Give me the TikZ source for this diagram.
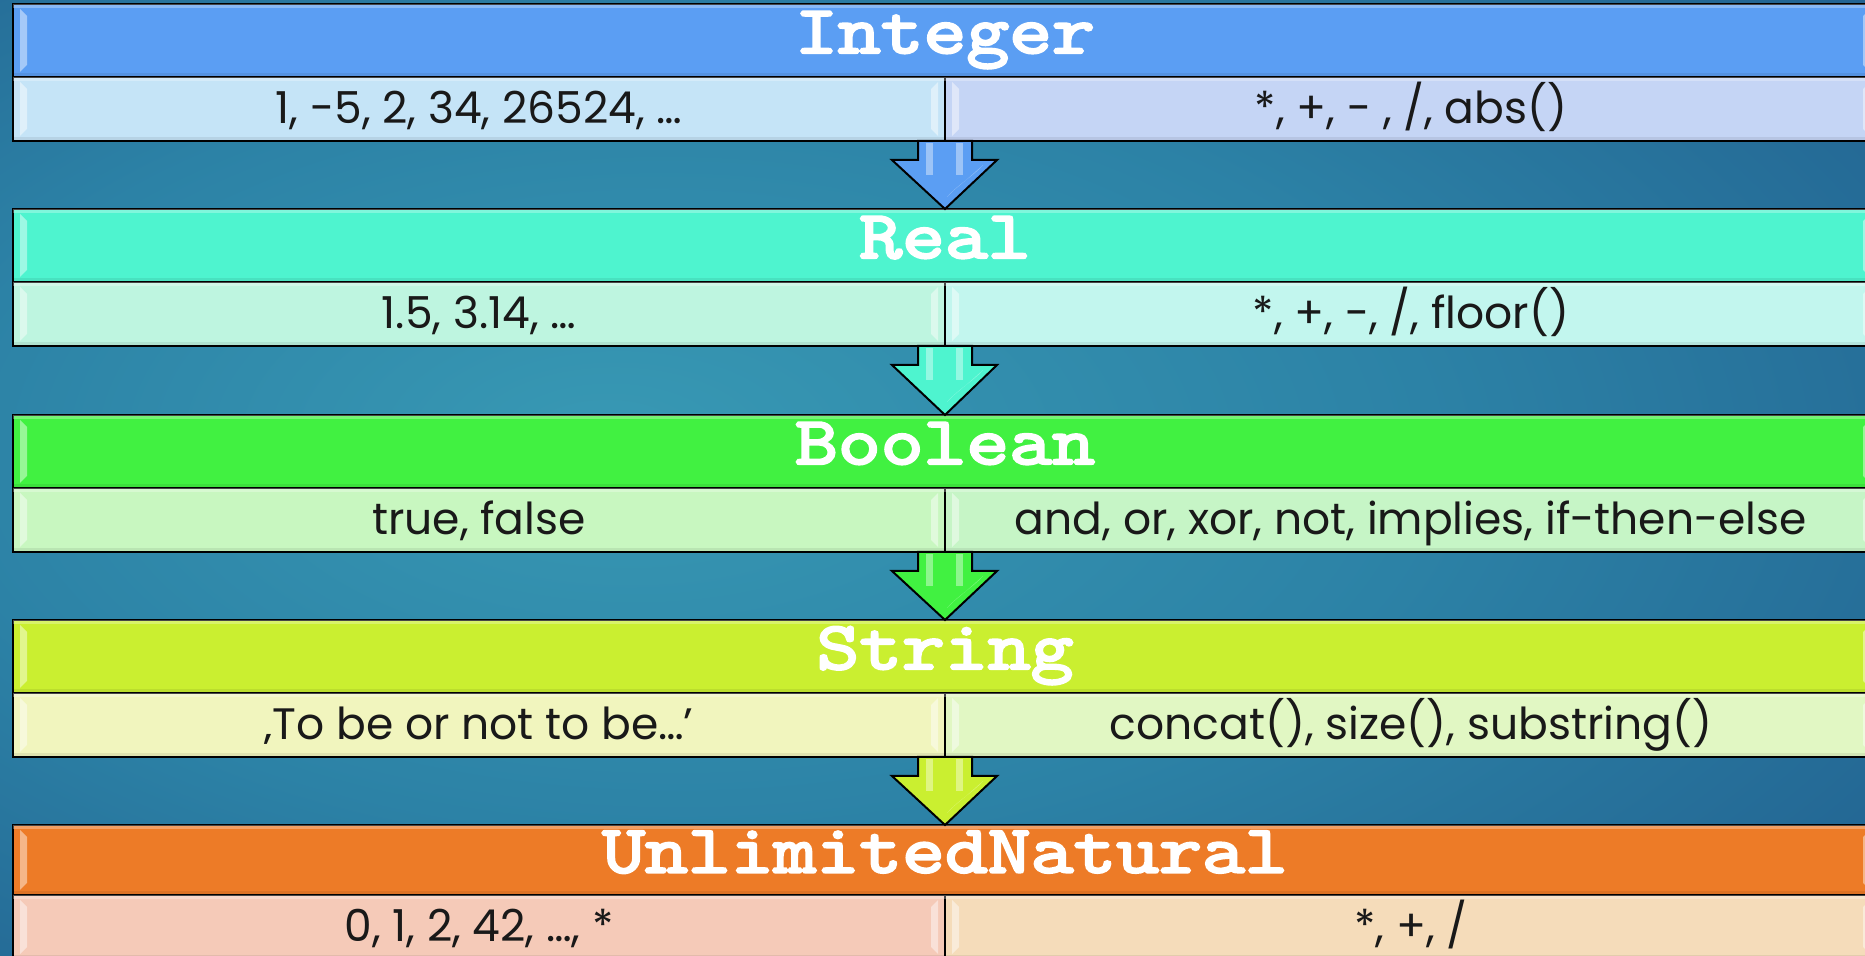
\documentclass[tikz,border=0pt]{standalone}
\usepackage{fontspec}
\usetikzlibrary{calc}
\newfontfamily\cellfont{Poppins}
\newfontfamily\hdfont{lmmono10-regular.otf}[FakeBold=3.5, FakeStretch=1.2]
\definecolor{bgA}{HTML}{3899B4}
\definecolor{bgB}{HTML}{2C82A6}
\definecolor{bgC}{HTML}{1D5286}
\definecolor{bgD}{HTML}{173F75}
\definecolor{intH}{HTML}{5B9EF3}\definecolor{intL}{HTML}{C5E4F7}\definecolor{intR}{HTML}{C5D5F5}
\definecolor{reaH}{HTML}{4EF4CF}\definecolor{reaL}{HTML}{BEF5E0}\definecolor{reaR}{HTML}{C2F6EE}
\definecolor{booH}{HTML}{41F141}\definecolor{booL}{HTML}{C8F7C0}\definecolor{booR}{HTML}{C6F5C6}
\definecolor{strH}{HTML}{CAEF30}\definecolor{strL}{HTML}{F1F5BE}\definecolor{strR}{HTML}{E1F7C3}
\definecolor{unH}{HTML}{ED7B27}\definecolor{unL}{HTML}{F5CAB8}\definecolor{unR}{HTML}{F5DCBA}
\pgfdeclareradialshading{bgsh}{\pgfpoint{-9bp}{2bp}}{color(0bp)=(bgA); color(20bp)=(bgB); color(48bp)=(bgC); color(75bp)=(bgD)}
\newcommand\bevelmarks[1]{%
  \fill[bevel] ($(#1.north west)+(7,5)$) -- ($(#1.north west)+(14,12)$) -- ($(#1.south west)+(14,-12)$) -- ($(#1.south west)+(7,-5)$) -- cycle;
  \fill[bevel] ($(#1.north east)+(-7,5)$) -- ($(#1.north east)+(-14,12)$) -- ($(#1.south east)+(-14,-12)$) -- ($(#1.south east)+(-7,-5)$) -- cycle;
  \fill[white,opacity=0.28] (#1.north west) rectangle ($(#1.north east)+(0,4)$);
  \fill[black,opacity=0.07] ($(#1.south west)+(0,-4)$) rectangle (#1.south east);
}
\newcommand\blockarrow[3]{%
  \draw[blkarr, fill=#1] ($(#2.south east)+(-27,0)$) -- ($(#2.south east)+(-27,19)$) -- ($(#2.south east)+(-53,19)$) -- (#3.north) -- ($(#2.south east)+(52,19)$) -- ($(#2.south east)+(27,19)$) -- ($(#2.south east)+(27,0)$) -- cycle;
  \fill[white,opacity=0.4] ($(#2.south east)+(-19,2)$) rectangle ($(#2.south east)+(-12,34)$);
  \fill[white,opacity=0.4] ($(#2.south east)+(11,2)$) rectangle ($(#2.south east)+(18,34)$);
  \fill[white,opacity=0.3] ($(#2.south east)+(38,24)$) .. controls ($(#2.south east)+(30,34)$) and ($(#2.south east)+(12,44)$) .. ($(#2.south east)+(2,56)$) -- ($(#2.south east)+(8,50)$) .. controls ($(#2.south east)+(20,40)$) .. ($(#2.south east)+(38,24)$) -- cycle;
}
\begin{document}
\begin{tikzpicture}[x=0.5pt,y=-0.5pt,
  hdr/.style={draw=black, line width=1pt, fill=#1, minimum width=932pt, minimum height=36.5pt,
    inner sep=0pt, outer sep=0pt, anchor=north west, text=white,
    font=\hdfont\fontsize{34}{34}\selectfont, text height=16pt, text depth=3.5pt},
  cell/.style={draw=black, line width=0.8pt, fill=#1, minimum width=466pt, minimum height=32pt,
    inner sep=0pt, outer sep=0pt, anchor=north west, text=black!90,
    font=\cellfont\fontsize{22}{22}\selectfont, text height=17.5pt, text depth=2.5pt},
  bevel/.style={white, opacity=0.45},
  blkarr/.style={draw=black, line width=1pt, line join=miter}]
\useasboundingbox (0,0) rectangle (1865,956);
\shade[shading=bgsh] (0,0) rectangle (1865,956);
% Integer
\node[hdr=intH] (h1) at (13,4) {Integer};
\node[cell=intL] (l1) at (13,77) {1, -5, 2, 34, 26524, …};
\node[cell=intR] (r1) at (945,77) {*, +, - , /, abs()};
% Real
\node[hdr=reaH] (h2) at (13,209) {Real};
\node[cell=reaL] (l2) at (13,282) {1.5, 3.14, …};
\node[cell=reaR] (r2) at (945,282) {*, +, -, /, floor()};
% Boolean
\node[hdr=booH] (h3) at (13,415) {Boolean};
\node[cell=booL] (l3) at (13,488) {true, false};
\node[cell=booR] (r3) at (945,488) {and, or, xor, not, implies, if-then-else};
% String
\node[hdr=strH] (h4) at (13,620) {String};
\node[cell=strL] (l4) at (13,693) {‚To be or not to be…’};
\node[cell=strR] (r4) at (945,693) {concat(), size(), substring()};
% UnlimitedNatural
\node[hdr=unH, minimum height=35pt] (h5) at (13,825) {UnlimitedNatural};
\node[cell=unL] (l5) at (13,895) {0, 1, 2, 42, …, *};
\node[cell=unR] (r5) at (945,895) {*, +, /};
\foreach \n in {h1,l1,r1,h2,l2,r2,h3,l3,r3,h4,l4,r4,h5,l5,r5}{\bevelmarks{\n}}
\blockarrow{intH}{l1}{h2}
\blockarrow{reaH}{l2}{h3}
\blockarrow{booH}{l3}{h4}
\blockarrow{strH}{l4}{h5}
\end{tikzpicture}
\end{document}
